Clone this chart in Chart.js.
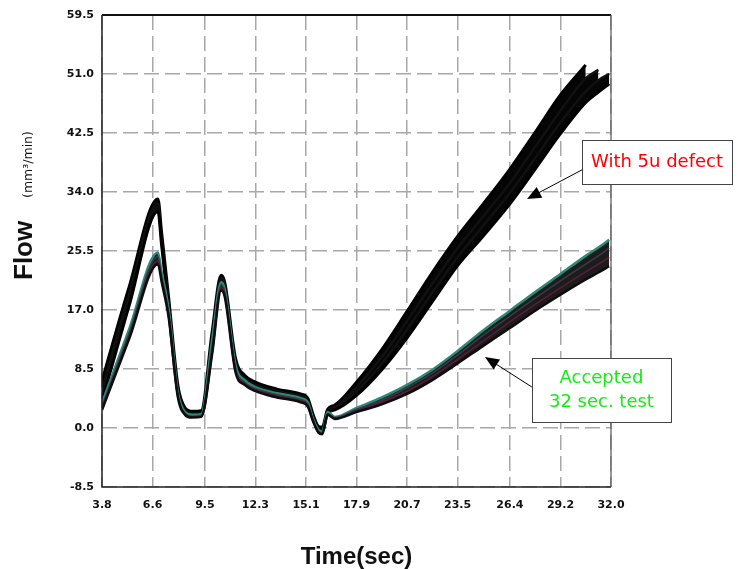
<!DOCTYPE html>
<html>
<head>
<meta charset="utf-8">
<title>Flow vs Time</title>
<script src="https://cdn.jsdelivr.net/npm/chart.js@4.4.7/dist/chart.umd.min.js"></script>
<style>
  html, body { margin: 0; padding: 0; background: #fff; }
  #wrap { width: 744px; height: 569px; }
</style>
</head>
<body>
<div id="wrap"><canvas id="flowChart" width="744" height="569"></canvas></div>
<script>
// ===== data =====
const timeSec = [3.8, 5.3, 6.9, 7.1, 7.5, 8.0, 8.4, 8.8, 9.3, 9.9, 10.4, 10.6, 11.2, 11.7, 12.3, 13.5, 14.8, 15.2, 15.5, 15.8, 16.0, 16.3, 16.7, 17.9, 19.3, 20.7, 22.1, 23.5, 24.9, 26.4, 27.8, 29.2, 30.6, 31.3, 31.9];

// parts with the 5u defect
const defect1 = [6.8, 20.3, 33.0, 28.2, 18.6, 6.2, 2.9, 2.4, 2.5, 13.8, 22.0, 21.0, 10.0, 7.6, 6.6, 5.6, 4.9, 4.3, 1.9, 0.2, 0.1, 2.7, 3.3, 6.6, 11.3, 16.8, 22.4, 27.6, 32.2, 37.3, 42.6, 48.0, 52.3, null, null];
const defect2 = [5.5, 19.2, 32.4, 27.6, 17.9, 5.7, 2.6, 2.1, 2.2, 13.0, 21.6, 20.6, 9.4, 7.2, 6.2, 5.3, 4.6, 4.0, 1.6, -0.1, -0.2, 2.5, 3.0, 5.9, 10.2, 15.4, 20.8, 25.9, 30.4, 35.3, 40.5, 45.7, 50.4, 51.6, null];
const defect3 = [4.6, 18.4, 31.8, 27.0, 17.3, 5.3, 2.4, 1.9, 2.0, 12.2, 21.2, 20.2, 9.0, 6.9, 5.9, 5.0, 4.3, 3.7, 1.4, -0.3, -0.4, 2.3, 2.8, 5.3, 9.3, 14.2, 19.5, 24.6, 29.1, 33.9, 38.9, 44.0, 48.5, 50.1, 51.0];
const defect4 = [3.8, 17.6, 31.2, 26.4, 16.8, 5.0, 2.2, 1.7, 1.8, 11.4, 20.8, 19.8, 8.6, 6.6, 5.6, 4.7, 4.0, 3.4, 1.2, -0.5, -0.6, 2.1, 2.6, 4.7, 8.4, 13.0, 18.2, 23.4, 27.6, 32.3, 37.3, 42.4, 46.9, 48.4, 49.6];

// accepted parts (32 sec. test)
const accepted1 = [3.6, 14.2, 25.3, 22.5, 17.0, 5.2, 2.3, 1.9, 2.0, 12.6, 21.0, 20.0, 9.0, 6.9, 5.9, 5.0, 4.3, 3.7, 1.3, -0.3, -0.5, 2.3, 1.6, 2.9, 4.4, 6.2, 8.4, 11.1, 14.0, 16.9, 19.6, 22.2, 24.8, 26.0, 27.1];
const accepted2 = [3.2, 13.7, 24.7, 22.0, 16.5, 4.9, 2.1, 1.7, 1.8, 11.8, 20.6, 19.6, 8.6, 6.6, 5.7, 4.8, 4.1, 3.5, 1.1, -0.5, -0.7, 2.1, 1.5, 2.7, 4.0, 5.8, 7.9, 10.5, 13.3, 16.1, 18.7, 21.2, 23.6, 24.8, 25.9];
const accepted3 = [2.9, 13.2, 24.1, 21.5, 16.1, 4.7, 2.0, 1.6, 1.7, 11.2, 20.2, 19.3, 8.3, 6.4, 5.5, 4.6, 3.9, 3.3, 1.0, -0.6, -0.8, 2.0, 1.4, 2.5, 3.7, 5.3, 7.4, 9.9, 12.5, 15.3, 17.8, 20.2, 22.5, 23.6, 24.6];
const accepted4 = [2.6, 12.8, 23.6, 21.1, 15.8, 4.5, 1.9, 1.5, 1.6, 10.6, 19.8, 18.9, 8.0, 6.2, 5.3, 4.4, 3.7, 3.1, 0.9, -0.7, -0.9, 1.9, 1.3, 2.3, 3.4, 4.9, 6.9, 9.3, 11.8, 14.4, 16.9, 19.2, 21.4, 22.4, 23.3];

const timeTicks = [3.8, 6.6, 9.5, 12.3, 15.1, 17.9, 20.7, 23.5, 26.4, 29.2, 32.0];
const flowTicks = [-8.5, 0.0, 8.5, 17.0, 25.5, 34.0, 42.5, 51.0, 59.5];

const defectNote = ['With 5u defect'];
const acceptedNote = ['Accepted', '32 sec. test'];

// ===== helpers =====
function toPoints(values) {
  return values.map((v, i) => ({ x: timeSec[i], y: v }));
}

function trace(label, values, color, width, fillTo, fillColor) {
  return {
    label: label,
    data: toPoints(values),
    borderColor: color,
    borderWidth: width,
    backgroundColor: fillColor || color,
    pointRadius: 0,
    fill: fillTo === undefined ? false : fillTo,
    cubicInterpolationMode: 'monotone',
    spanGaps: false
  };
}

function drawArrow(ctx, fx, fy, tx, ty) {
  const ang = Math.atan2(ty - fy, tx - fx);
  const c = Math.cos(ang), s = Math.sin(ang);
  ctx.beginPath();
  ctx.moveTo(fx, fy);
  ctx.lineTo(tx - 10 * c, ty - 10 * s);
  ctx.stroke();
  ctx.beginPath();
  ctx.moveTo(tx, ty);
  ctx.lineTo(tx - 14 * c + 6 * s, ty - 14 * s - 6 * c);
  ctx.lineTo(tx - 14 * c - 6 * s, ty - 14 * s + 6 * c);
  ctx.closePath();
  ctx.fill();
}

// callout: box given in data units (left, top, right, bottom), arrow from box edge to tip
function drawCallout(ctx, xs, ys, box, tail, tip, lines, color) {
  const l = xs.getPixelForValue(box[0]), t = ys.getPixelForValue(box[1]);
  const r = xs.getPixelForValue(box[2]), b = ys.getPixelForValue(box[3]);
  ctx.save();
  ctx.strokeStyle = '#000';
  ctx.fillStyle = '#000';
  ctx.lineWidth = 1;
  drawArrow(ctx, xs.getPixelForValue(tail[0]), ys.getPixelForValue(tail[1]),
            xs.getPixelForValue(tip[0]), ys.getPixelForValue(tip[1]));
  ctx.fillStyle = '#fff';
  ctx.fillRect(l, t, r - l, b - t);
  ctx.strokeStyle = '#444';
  ctx.strokeRect(Math.round(l) + 0.5, Math.round(t) + 0.5, Math.round(r - l), Math.round(b - t));
  ctx.fillStyle = color;
  ctx.font = '18px "DejaVu Sans"';
  ctx.textAlign = 'center';
  ctx.textBaseline = 'middle';
  const cx = (l + r) / 2, cy = (t + b) / 2, lh = 24;
  lines.forEach((txt, i) => {
    ctx.fillText(txt, cx, cy + (i - (lines.length - 1) / 2) * lh);
  });
  ctx.restore();
}

// ===== frame, y title, callouts =====
const decorPlugin = {
  id: 'decor',
  afterDatasetsDraw(chart) {
    const { ctx, chartArea: a, scales: { x, y } } = chart;
    ctx.save();
    ctx.lineWidth = 2;
    ctx.strokeStyle = '#111';
    ctx.beginPath(); ctx.moveTo(a.left, a.top); ctx.lineTo(a.right, a.top); ctx.stroke();
    ctx.lineWidth = 1.5;
    ctx.strokeStyle = '#222';
    ctx.beginPath(); ctx.moveTo(a.left, a.top); ctx.lineTo(a.left, a.bottom); ctx.lineTo(a.right, a.bottom); ctx.stroke();
    ctx.strokeStyle = '#555';
    ctx.lineWidth = 1.2;
    ctx.beginPath(); ctx.moveTo(a.right, a.top); ctx.lineTo(a.right, a.bottom); ctx.stroke();
    ctx.restore();

    drawCallout(ctx, x, y, [30.4, 41.5, 38.7, 35.15], [30.4, 37.2], [27.35, 33.0], defectNote, '#ff0000');
    drawCallout(ctx, x, y, [27.62, 10.1, 35.32, 0.87], [27.62, 5.9], [25.02, 10.23], acceptedNote, '#11ee11');
  },
  afterDraw(chart) {
    const ctx = chart.ctx;
    ctx.save();
    ctx.fillStyle = '#111';
    ctx.textAlign = 'left';
    ctx.textBaseline = 'alphabetic';
    ctx.translate(32, 280);
    ctx.rotate(-Math.PI / 2);
    ctx.font = 'bold 26px "Liberation Sans"';
    ctx.fillText('Flow', 0, 0);
    ctx.font = '12.5px "DejaVu Sans"';
    ctx.fillText('(mm\u00b3/min)', 82, 0);
    ctx.restore();
  }
};

// ===== chart =====
function createFlowChart() {
  const ctx = document.getElementById('flowChart').getContext('2d');
  // index 0..3 accepted (A4, A3, A2, A1), 4..7 defect (D4, D3, D2, D1)
  new Chart(ctx, {
    type: 'line',
    data: {
      datasets: [
        trace('accepted 4', accepted4, '#0d0d0d', 2.5),
        trace('accepted 3', accepted3, '#5a1c3a', 1.5),
        trace('accepted 2', accepted2, '#3a3a4a', 1.5),
        trace('accepted 1', accepted1, '#2c8a76', 2.5, 0, '#1c1c1c'),
        trace('defect 4', defect4, '#000000', 3),
        trace('defect 3', defect3, '#111111', 2.5, 4, '#050505'),
        trace('defect 2', defect2, '#111111', 2.5, 4, '#050505'),
        trace('defect 1', defect1, '#000000', 3, 4, '#050505')
      ]
    },
    options: {
      responsive: false,
      animation: false,
      layout: { padding: { top: 15, right: 133, bottom: 0, left: 0 } },
      plugins: {
        legend: { display: false },
        tooltip: { enabled: false }
      },
      scales: {
        x: {
          type: 'linear',
          min: 3.8,
          max: 32.0,
          afterBuildTicks: axis => { axis.ticks = timeTicks.map(v => ({ value: v })); },
          afterFit: axis => { axis.height = 82; },
          ticks: {
            padding: 12,
            color: '#111',
            font: { family: 'DejaVu Sans', size: 11, weight: 'bold' },
            callback: v => v.toFixed(1)
          },
          grid: {
            color: '#a8a8a8',
            lineWidth: 1.5,
            drawTicks: false
          },
          border: { display: false, dash: [15, 6] },
          title: {
            display: true,
            text: 'Time(sec)',
            color: '#111',
            padding: 0,
            font: { family: 'Liberation Sans', size: 24, weight: 'bold', lineHeight: 1 }
          }
        },
        y: {
          min: -8.5,
          max: 59.5,
          afterBuildTicks: axis => { axis.ticks = flowTicks.map(v => ({ value: v })); },
          afterFit: axis => { axis.width = 102; },
          ticks: {
            padding: 8,
            color: '#111',
            font: { family: 'DejaVu Sans', size: 11, weight: 'bold' },
            callback: v => v.toFixed(1)
          },
          grid: {
            color: '#a8a8a8',
            lineWidth: 1.5,
            drawTicks: false
          },
          border: { display: false, dash: [15, 6] }
        }
      }
    },
    plugins: [decorPlugin]
  });
}

// ===== init =====
document.addEventListener('DOMContentLoaded', () => {
  createFlowChart();
});
</script>
</body>
</html>
